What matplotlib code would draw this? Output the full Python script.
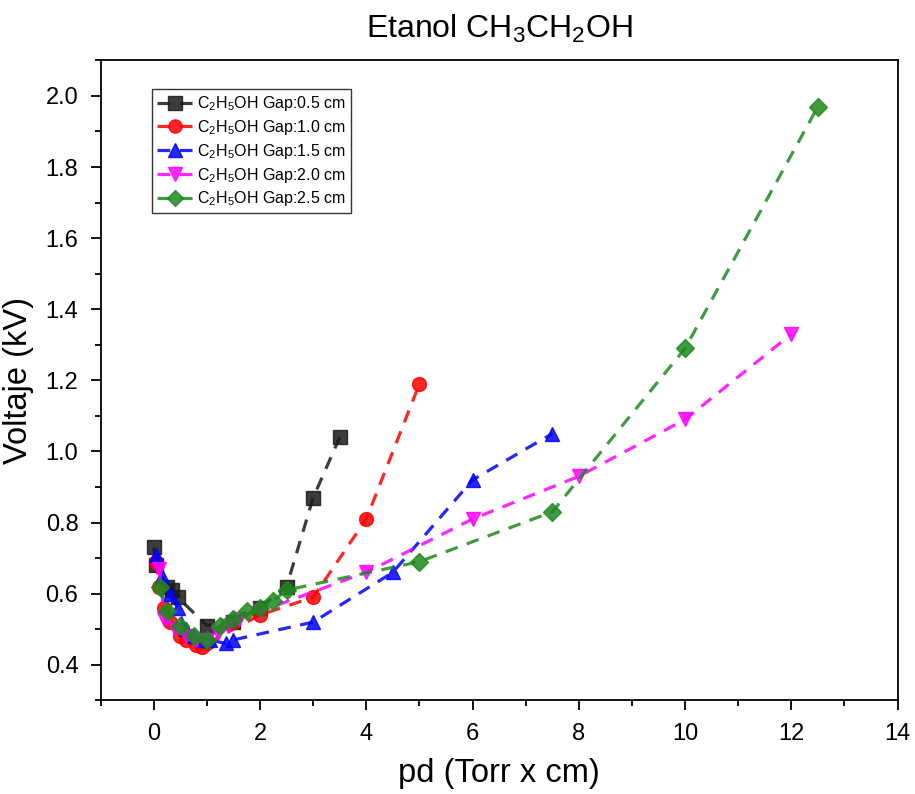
import matplotlib
matplotlib.use("Agg")
import matplotlib.pyplot as plt
from matplotlib.ticker import MultipleLocator

plt.rcParams['font.family'] = ['Liberation Sans', 'DejaVu Sans']
plt.rcParams['mathtext.fontset'] = 'custom'
plt.rcParams['mathtext.rm'] = 'Liberation Sans'
plt.rcParams['mathtext.it'] = 'Liberation Sans'

# Data
x_05 = [0.0, 0.05, 0.25, 0.35, 0.45, 1.0, 1.5, 2.0, 2.5, 3.0, 3.5]
y_05 = [0.73, 0.68, 0.62, 0.61, 0.59, 0.51, 0.52, 0.56, 0.62, 0.87, 1.04]

x_10 = [0.05, 0.1, 0.2, 0.3, 0.5, 0.6, 0.8, 0.9, 1.0, 2.0, 3.0, 4.0, 5.0]
y_10 = [0.69, 0.62, 0.56, 0.52, 0.48, 0.47, 0.455, 0.45, 0.46, 0.54, 0.59, 0.81, 1.19]

x_15 = [0.05, 0.15, 0.3, 0.45, 0.6, 0.75, 0.9, 1.05, 1.35, 1.5, 3.0, 4.5, 6.0, 7.5]
y_15 = [0.71, 0.65, 0.60, 0.56, 0.50, 0.48, 0.47, 0.47, 0.46, 0.47, 0.52, 0.66, 0.92, 1.05]

x_20 = [0.1, 0.2, 0.4, 0.6, 0.8, 1.0, 1.2, 1.4, 1.6, 2.0, 4.0, 6.0, 8.0, 10.0, 12.0]
y_20 = [0.67, 0.53, 0.50, 0.48, 0.47, 0.47, 0.49, 0.51, 0.53, 0.55, 0.66, 0.81, 0.93, 1.09, 1.33]

x_25 = [0.12, 0.25, 0.5, 0.75, 1.0, 1.25, 1.5, 1.75, 2.0, 2.25, 2.5, 5.0, 7.5, 10.0, 12.5]
y_25 = [0.62, 0.55, 0.51, 0.48, 0.47, 0.51, 0.53, 0.55, 0.56, 0.58, 0.61, 0.69, 0.83, 1.29, 1.97]

labels = ['C$_2$H$_5$OH Gap:0.5 cm', 'C$_2$H$_5$OH Gap:1.0 cm', 'C$_2$H$_5$OH Gap:1.5 cm',
          'C$_2$H$_5$OH Gap:2.0 cm', 'C$_2$H$_5$OH Gap:2.5 cm']

series = [(x_05, y_05, '#1a1a1a', 's'),
          (x_10, y_10, '#ff0000', 'o'),
          (x_15, y_15, '#0000ff', '^'),
          (x_20, y_20, '#ff00ff', 'v'),
          (x_25, y_25, '#1e8a1e', 'D')]

fig = plt.figure(figsize=(9.15, 7.94), dpi=100)
ax = fig.add_axes([0.110, 0.118, 0.871, 0.806])

for (xs, ys, c, m), lab in zip(series, labels):
    ms = 9 if m == 'D' else 10
    ax.plot(xs, ys, linestyle=(0, (4, 3)), color=c, lw=2.3, marker=m, ms=ms,
            alpha=0.85, label=lab)

ax.set_xlim(-1, 14)
ax.set_ylim(0.3, 2.1)
ax.xaxis.set_major_locator(MultipleLocator(2))
ax.xaxis.set_minor_locator(MultipleLocator(1))
ax.yaxis.set_major_locator(MultipleLocator(0.2))
ax.yaxis.set_minor_locator(MultipleLocator(0.1))
ax.yaxis.set_major_formatter(matplotlib.ticker.FormatStrFormatter('%.1f'))
ax.tick_params(which='major', direction='out', length=7, width=1.3, labelsize=17, pad=9)
ax.tick_params(which='minor', direction='out', length=4, width=1.3)
ax.tick_params(top=False, right=False)
for s in ax.spines.values():
    s.set_linewidth(1.3)

ax.set_xlabel('pd (Torr x cm)', fontsize=23.5, labelpad=10)
ax.set_ylabel('Voltaje (kV)', fontsize=23.5, labelpad=8)
ax.set_title('Etanol CH$_3$CH$_2$OH', fontsize=23, pad=16)

leg = ax.legend(loc='upper left', bbox_to_anchor=(0.055, 0.967), fontsize=11.5,
                frameon=True, fancybox=False, edgecolor='black', handlelength=2.2,
                borderpad=0.3, labelspacing=0.3, handletextpad=0.3, markerscale=0.95)
leg.get_frame().set_linewidth(1.0)

fig.savefig('out.png', dpi=100)
